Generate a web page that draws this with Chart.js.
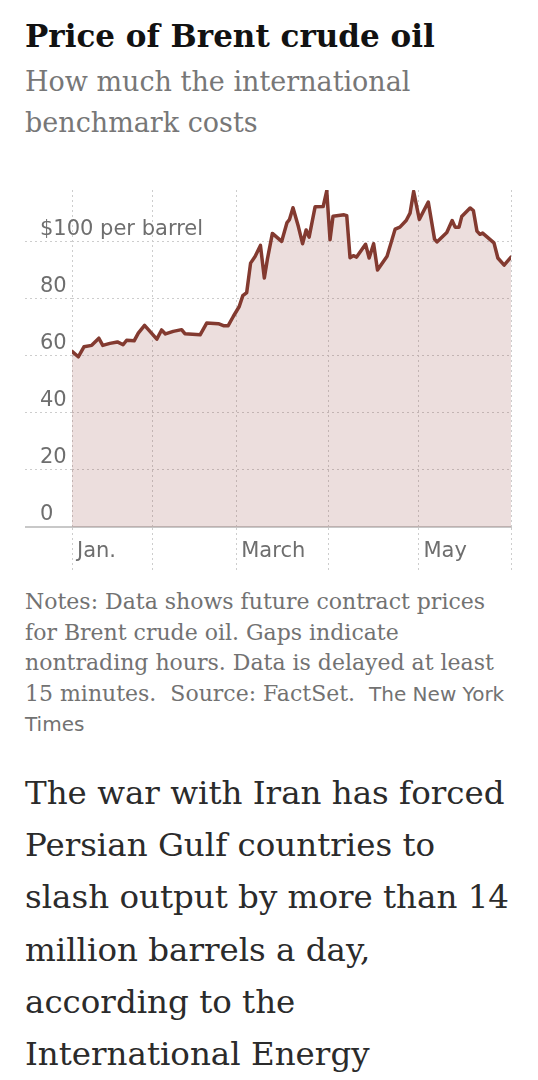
<!DOCTYPE html>
<html>
<head>
<meta charset="utf-8">
<script src="https://cdn.jsdelivr.net/npm/chart.js@4.4.1/dist/chart.umd.min.js"></script>
<style>
body { margin: 0; background: #fff; width: 538px; height: 1080px; overflow: hidden; position: relative; }
.txt { position: absolute; left: 25px; white-space: nowrap; }
#title { top: 17px; font: bold 31px/38px "DejaVu Serif"; color: #121212; }
#subtitle { top: 61px; font: 27px/41px "DejaVu Serif"; color: #777; }
#box { position: absolute; top: 170px; left: 0; width: 538px; height: 410px; }
#notes { top: 587px; font: 22px/30.5px "DejaVu Serif"; color: #727272; }
#notes .sans { font: 20px "DejaVu Sans"; }
#story { top: 767px; font: 32.5px/52.2px "DejaVu Serif"; color: #2b2b2b; }
</style>
</head>
<body>
<div id="title" class="txt">Price of Brent crude oil</div>
<div id="subtitle" class="txt">How much the international<br>benchmark costs</div>
<div id="box"><canvas id="grafico" width="538" height="410"></canvas></div>
<div id="notes" class="txt">Notes: Data shows future contract prices<br>for Brent crude oil. Gaps indicate<br>nontrading hours. Data is delayed at least<br>15 minutes.&nbsp; Source: FactSet.&nbsp; <span class="sans">The New York</span><br><span class="sans">Times</span></div>
<div id="story" class="txt">The war with Iran has forced<br>Persian Gulf countries to<br>slash output by more than 14<br>million barrels a day,<br>according to the<br>International Energy</div>
<script>
// day of the year (Jan 1 = 0) and price in dollars
const days = [4.0, 6.1, 8.0, 10.6, 13.0, 14.3, 16.7, 19.2, 21.1, 22.3, 24.8, 26.2, 28.3, 30.1, 32.4, 34.0, 35.3, 37.9, 40.7, 41.8,
  46.9, 49.1, 53.0, 54.7, 56.3, 58.0, 60.0, 61.2, 62.5, 63.8, 65.3, 67.1, 68.4, 69.4, 71.1, 74.2, 76.0, 76.8, 78.0, 79.8,
  81.2, 82.4, 83.4, 85.4, 88.1, 89.3, 90.4, 91.4, 95.1, 96.0, 97.1, 98.2, 99.3, 102.3, 103.5, 105.0, 106.3, 109.5, 112.2, 113.8,
  115.9, 117.2, 118.4, 120.3, 123.3, 125.4, 126.2, 129.5, 131.3, 132.3, 133.6, 134.5, 137.3, 138.4, 139.6, 140.6, 141.5, 145.3, 146.6, 148.7, 151.0]
const prices = [61.5, 59.6, 63.1, 63.6, 66.1, 63.6, 64.3, 64.8, 63.8, 65.4, 65.2, 67.9, 70.6, 68.5, 65.8, 69.0, 67.6, 68.5, 69.1, 67.7,
  67.3, 71.4, 71.2, 70.5, 70.5, 73.7, 77.2, 81.0, 82.1, 92.4, 94.7, 98.6, 87.2, 93.6, 102.8, 100.0, 106.6, 107.6, 111.8, 105.2,
  99.2, 104.0, 101.5, 112.1, 112.2, 117.7, 100.6, 108.8, 109.3, 109.0, 94.3, 95.0, 94.5, 99.0, 94.2, 99.2, 90.0, 94.8, 104.3, 105.0,
  107.3, 109.9, 117.5, 107.7, 113.8, 100.8, 99.8, 103.1, 107.3, 105.0, 105.0, 108.7, 111.7, 110.8, 103.6, 102.5, 102.9, 99.5, 94.2, 91.7, 94.5]
const yTicks = [0, 20, 40, 60, 80, 100]
const monthDays = [4, 31, 59, 90, 120, 151] //where the vertical gridlines go
const monthLabels = ["Jan.", "", "March", "", "May", ""]

let points = days.map((d, i) => ({x: d, y: prices[i]}))

const gridColor = "#cdcdcd"
const dots = [2, 3]
const tickFont = {family: "DejaVu Sans", size: 21}

new Chart("grafico", {
  type: "line",
  data: {
    datasets: [{
      data: points,
      borderColor: "#833a30",
      borderWidth: 3.5,
      backgroundColor: "rgba(140, 60, 55, 0.17)",
      fill: "origin",
      pointRadius: 0,
      tension: 0,
      borderJoinStyle: "round",
      borderCapStyle: "round"
    }]
  },
  options: {
    responsive: false,
    animation: false,
    layout: {padding: {top: 20, bottom: 8, left: 40, right: 27}},
    plugins: {legend: {display: false}, tooltip: {enabled: false}},
    scales: {
      x: {
        type: "linear",
        min: monthDays[0],
        max: monthDays[monthDays.length - 1],
        afterBuildTicks: s => { s.ticks = monthDays.map(v => ({value: v})) },
        afterFit: s => { s.height = 45 },
        ticks: {
          align: "start", labelOffset: 5, padding: -33, autoSkip: false, maxRotation: 0,
          color: "#6e6e6e", font: tickFont,
          callback: (v, i) => monthLabels[i]
        },
        grid: {color: gridColor, lineWidth: 1, tickLength: 45, tickBorderDash: dots},
        border: {display: true, color: "#c8c8c8", width: 2, dash: dots}
      },
      y: {
        min: 0,
        max: 118,
        afterBuildTicks: s => { s.ticks = yTicks.map(v => ({value: v})) },
        afterFit: s => { s.width = 32; s.paddingTop = 0; s.paddingBottom = 0 },
        ticks: {
          mirror: true, padding: -32, //mirror so the long "$100 per barrel" label is not clipped
          labelOffset: -12, color: "#6e6e6e", font: tickFont,
          callback: v => v == 100 ? "$100 per barrel" : v
        },
        grid: {
          color: gridColor,
          lineWidth: c => (c.tick && c.tick.value == 0) ? 0 : 1,
          tickWidth: c => (c.tick && c.tick.value == 0) ? 2 : 1,
          tickColor: c => (c.tick && c.tick.value == 0) ? "#c8c8c8" : gridColor,
          tickBorderDash: c => (c.tick && c.tick.value == 0) ? [] : dots,
          tickLength: 47
        },
        border: {display: false, dash: dots}
      }
    }
  }
})
</script>
</body>
</html>
